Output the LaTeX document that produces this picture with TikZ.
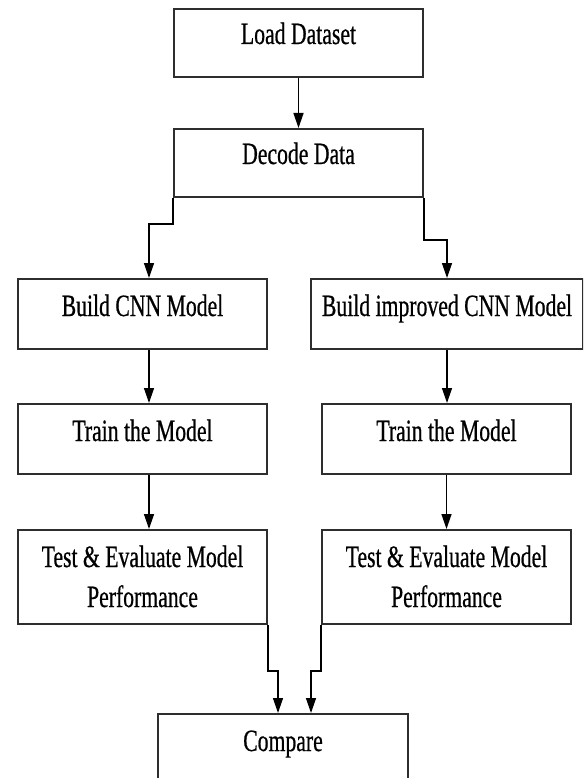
\documentclass[tikz,border=0pt]{standalone}
\usepackage{fontspec}
\setmainfont{Liberation Serif}[FakeStretch=0.70,FakeBold=0.6]
\usetikzlibrary{arrows.meta}
\definecolor{boxgray}{HTML}{2e2e2e}
\begin{document}
\begin{tikzpicture}[x=1pt,y=-1pt,
  box/.style={draw=boxgray, line width=2pt, rectangle, anchor=north west,
    inner sep=0pt, text height=37pt, font=\fontsize{31}{40}\selectfont},
  link/.style={line width=1.4pt, -{Triangle[length=15pt,width=10pt]}}]
  % page frame
  \useasboundingbox (0,0) rectangle (583,778);
  \fill[white] (0,0) rectangle (583,778);
  \clip (0,0) rectangle (583,778);

  % top chain
  \node[box, minimum width=249pt, text height=35pt, text depth=33pt] (load) at (173,8) {Load Dataset};
  \node[box, minimum width=249pt, text height=35pt, text depth=33pt] (decode) at (173,128) {Decode Data};

  % left branch
  \node[box, minimum width=249pt, text depth=33pt] (cnn) at (17,278) {Build CNN Model};
  \node[box, minimum width=249pt, text depth=33pt] (trainA) at (17,403) {Train the Model};
  \node[box, minimum width=249pt, text depth=57pt] (testA) at (17,529)
    {\begin{tabular}[t]{@{}c@{}}Test \& Evaluate Model\\Performance\end{tabular}};

  % right branch
  \node[box, minimum width=272pt, text depth=33pt] (icnn) at (310,278) {Build improved CNN Model};
  \node[box, minimum width=249pt, text depth=33pt] (trainB) at (321,403) {Train the Model};
  \node[box, minimum width=249pt, text depth=57pt] (testB) at (321,529)
    {\begin{tabular}[t]{@{}c@{}}Test \& Evaluate Model\\Performance\end{tabular}};

  % final step
  \node[box, minimum width=250pt, text depth=80pt] (cmp) at (157,713) {Compare};

  % connectors
  \draw[link] (load.south) -- (decode.north);
  \draw[link] (decode.south west) -- ++(0,26) -| ([xshift=6.5pt]cnn.north);
  \draw[link] (decode.south east) -- ++(0,42) -| (icnn.north);
  \draw[link] ([xshift=6.5pt]cnn.south) -- ([xshift=6.5pt]trainA.north);
  \draw[link] ([xshift=6.5pt]trainA.south) -- ([xshift=6.5pt]testA.north);
  \draw[link] (icnn.south) -- (icnn.south |- trainB.north);
  \draw[link] (trainB.south) -- (testB.north);
  \draw[link] (testA.south east) -- ++(0,46) -| ([xshift=-5pt]cmp.north);
  \draw[link] (testB.south west) -- ++(0,46) -| ([xshift=28pt]cmp.north);
\end{tikzpicture}
\end{document}
